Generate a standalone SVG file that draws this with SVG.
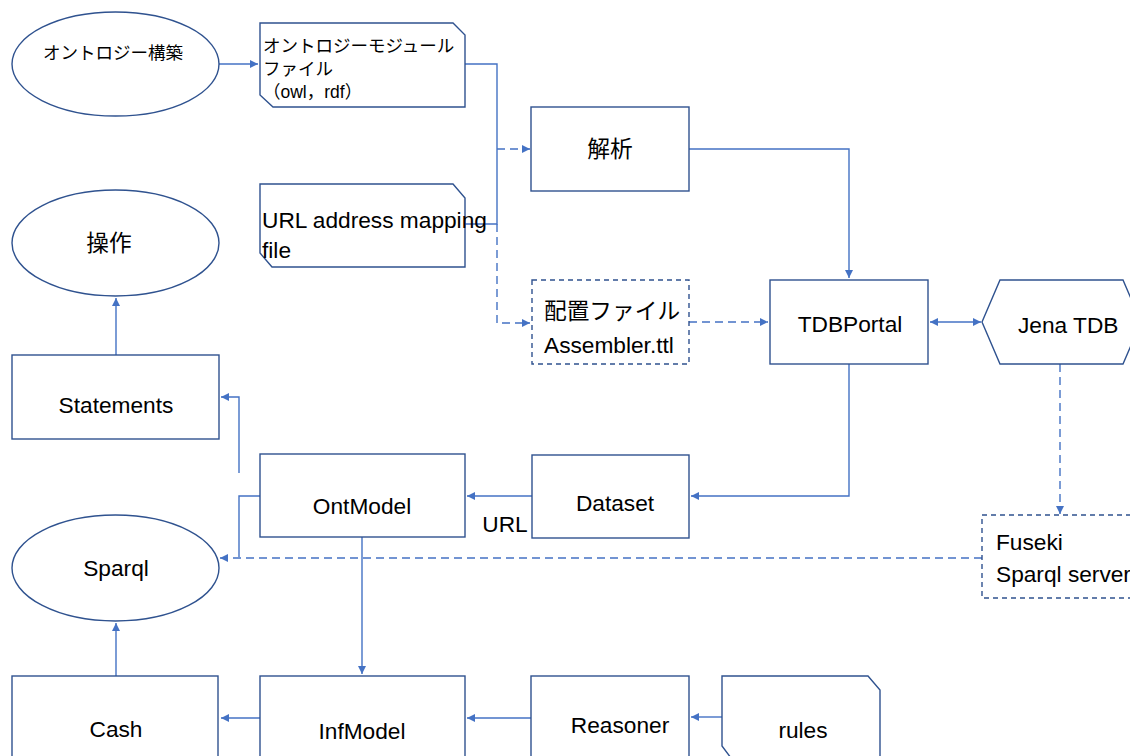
<svg xmlns="http://www.w3.org/2000/svg" width="1130" height="756" viewBox="0 0 1130 756">
<style>
.s{fill:#fff;stroke:#2F528F;stroke-width:1.4}
.d{fill:#fff;stroke:#2F528F;stroke-width:1.4;stroke-dasharray:5 4}
.c{fill:none;stroke:#4472C4;stroke-width:1.4}
.cd{fill:none;stroke:#4472C4;stroke-width:1.4;stroke-dasharray:8 5}
text{font-family:"Liberation Sans","Noto Sans CJK JP",sans-serif;font-size:22.7px;fill:#000}
.m{text-anchor:middle}
.j{font-size:17.5px}
</style>
<defs>
<marker id="a" viewBox="0 0 10 10" refX="10" refY="5" markerWidth="8" markerHeight="8" markerUnits="userSpaceOnUse" orient="auto-start-reverse">
<path d="M0,0 L10,5 L0,10 z" fill="#4472C4"/>
</marker>
</defs>
<rect width="1130" height="756" fill="#fff"/>
<g id="connectors">
<path class="c" d="M219,64 H258" marker-end="url(#a)"/>
<path class="c" d="M465,64 H497 V224 H465"/>
<path class="cd" d="M497,224 V323 H530" marker-end="url(#a)"/>
<path class="cd" d="M497,149 H530" marker-end="url(#a)"/>
<path class="c" d="M689,149 H849 V278" marker-end="url(#a)"/>
<path class="cd" d="M689,322 H768" marker-end="url(#a)"/>
<path class="c" d="M930,322 H981" marker-start="url(#a)" marker-end="url(#a)"/>
<path class="cd" d="M1060,364 V514" marker-end="url(#a)"/>
<path class="cd" d="M982,558 H220" marker-end="url(#a)"/>
<path class="c" d="M849,364 V496 H691" marker-end="url(#a)"/>
<path class="c" d="M532,496 H467" marker-end="url(#a)"/>
<path class="c" d="M260,496 H239 V557"/>
<path class="c" d="M239,473 V397 H221" marker-end="url(#a)"/>
<path class="c" d="M116,355 V298" marker-end="url(#a)"/>
<path class="c" d="M116,676 V623" marker-end="url(#a)"/>
<path class="c" d="M362,537 V674" marker-end="url(#a)"/>
<path class="c" d="M260,718 H221" marker-end="url(#a)"/>
<path class="c" d="M531,718 H467" marker-end="url(#a)"/>
<path class="c" d="M722,717 H691" marker-end="url(#a)"/>
<text x="505" y="532" class="m">URL</text>
</g>
<g id="build">
<ellipse class="s" cx="115.5" cy="64" rx="103.5" ry="52"/>
<text x="113" y="59" class="m j">オントロジー構築</text>
</g>
<g id="module-file">
<path class="s" d="M260,23 H453 L465,35 V107 H273 L260,95 Z"/>
<text x="263" y="52" class="j">オントロジーモジュール</text>
<text x="263" y="75" class="j">ファイル</text>
<text x="263" y="98" class="j">（owl，rdf）</text>
</g>
<g id="url-file">
<path class="s" d="M260,184 H453 L465,198 V267 H272 L260,253 Z"/>
<text x="262" y="228">URL address mapping</text>
<text x="262" y="258">file</text>
</g>
<g id="parse">
<rect class="s" x="531" y="107" width="158" height="84"/>
<text x="610" y="157" class="m">解析</text>
</g>
<g id="config">
<rect class="d" x="532" y="280" width="157" height="84"/>
<text x="544" y="319">配置ファイル</text>
<text x="544" y="353">Assembler.ttl</text>
</g>
<g id="tdbportal">
<rect class="s" x="770" y="280" width="158" height="84"/>
<text x="850" y="332" class="m">TDBPortal</text>
</g>
<g id="jena-tdb">
<path class="s" d="M982,322 L1000,280 H1123 L1141,322 L1123,364 H1000 Z"/>
<text x="1018" y="333">Jena TDB</text>
</g>
<g id="fuseki">
<rect class="d" x="982" y="515" width="160" height="83"/>
<text x="996" y="550">Fuseki</text>
<text x="996" y="582">Sparql server</text>
</g>
<g id="operation">
<ellipse class="s" cx="115.5" cy="243" rx="103.5" ry="53"/>
<text x="109" y="251" class="m">操作</text>
</g>
<g id="statements">
<rect class="s" x="12" y="355" width="207" height="84"/>
<text x="116" y="413" class="m">Statements</text>
</g>
<g id="ontmodel">
<rect class="s" x="260" y="454" width="205" height="83"/>
<text x="362" y="514" class="m">OntModel</text>
</g>
<g id="dataset">
<rect class="s" x="532" y="455" width="157" height="83"/>
<text x="615" y="511" class="m">Dataset</text>
</g>
<g id="sparql">
<ellipse class="s" cx="115.5" cy="568" rx="103.5" ry="53"/>
<text x="116" y="576" class="m">Sparql</text>
</g>
<g id="cash">
<rect class="s" x="12" y="676" width="206" height="90"/>
<text x="116" y="737" class="m">Cash</text>
</g>
<g id="infmodel">
<rect class="s" x="260" y="676" width="205" height="90"/>
<text x="362" y="739" class="m">InfModel</text>
</g>
<g id="reasoner">
<rect class="s" x="531" y="676" width="158" height="90"/>
<text x="620" y="733" class="m">Reasoner</text>
</g>
<g id="rules">
<path class="s" d="M722,676 H868 L880,690 V770 H740 L722,746 Z"/>
<text x="803" y="738" class="m">rules</text>
</g>
</svg>
